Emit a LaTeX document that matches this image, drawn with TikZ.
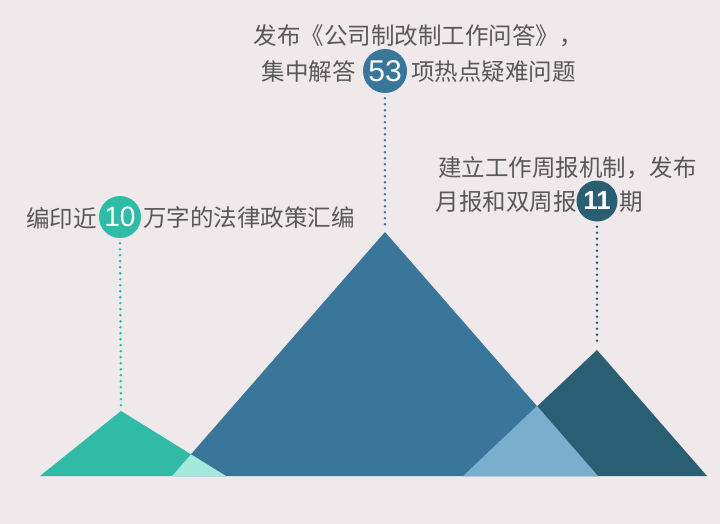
\documentclass[tikz,border=0pt]{standalone}
\usepackage{fontspec}
\setmainfont{Noto Sans CJK SC}
\newfontfamily\numfont{Liberation Sans}
\definecolor{bgc}{RGB}{239,233,236}
\definecolor{txtc}{RGB}{88,88,88}
\definecolor{tealc}{RGB}{47,187,166}
\definecolor{lteal}{RGB}{163,233,220}
\definecolor{bigc}{RGB}{58,118,153}
\definecolor{lblue}{RGB}{120,175,205}
\definecolor{darkc}{RGB}{42,94,115}
\tikzset{
  lbl/.style={text=txtc, font=\fontsize{23.5}{28}\selectfont, inner sep=0pt},
  numc/.style={circle, minimum size=#1, inner sep=0pt, text=white},
  dotline/.style={line width=2.8pt, line cap=round, dash pattern=on 0pt off 6pt}
}
\begin{document}
\begin{tikzpicture}[x=1pt,y=-1pt]
\fill[bgc] (0,0) rectangle (720,524);
\useasboundingbox (0,0) rectangle (720,524);
% apex coordinates
\coordinate (ta) at (121,411);
\coordinate (ba) at (385,232);
\coordinate (da) at (597,350);
% triangles
\fill[tealc] (40,476) -- (ta) -- (226,476) -- cycle;
\fill[bigc] (172,476) -- (ba) -- (598,476) -- cycle;
\fill[darkc] (463,476) -- (da) -- (707,476) -- cycle;
\fill[lteal] (172,476) -- (191,454.3) -- (226,476) -- cycle;
\fill[lblue] (463,476) -- (537,406) -- (598,476) -- cycle;
% top label
\node[lbl] (t1) at (418,36) {发布《公司制改制工作问答》，};
\node[numc=44pt, fill=bigc] (c53) at (385,71) {\numfont\fontsize{30}{30}\selectfont 53};
\node[lbl, anchor=east] (t2a) at (356,72) {集中解答};
\node[lbl, anchor=west] (t2b) at (411,72) {项热点疑难问题};
% right label
\node[lbl, anchor=west] (r1) at (438,168) {建立工作周报机制，发布};
\node[numc=41pt, fill=darkc] (c11) at (597,201) {\numfont\bfseries\fontsize{26}{26}\selectfont 11};
\node[lbl, anchor=east] (r2a) at (577,202) {月报和双周报};
\node[lbl, anchor=west] (r2b) at (619,202) {期};
% left label
\node[numc=42pt, fill=tealc] (c10) at (120,217) {\numfont\fontsize{28}{28}\selectfont 10};
\node[lbl, anchor=east] (l1a) at (97,218) {编印近};
\node[lbl, anchor=west] (l1b) at (143,218) {万字的法律政策汇编};
% dotted connectors
\draw[dotline, bigc] ([yshift=-5pt]c53.south) -- ([yshift=4pt]ba);
\draw[dotline, darkc] ([yshift=-5pt]c11.south) -- ([yshift=4pt]da);
\draw[dotline, tealc] ([yshift=-5pt]c10.south) -- ([yshift=4pt]ta);
\end{tikzpicture}
\end{document}
